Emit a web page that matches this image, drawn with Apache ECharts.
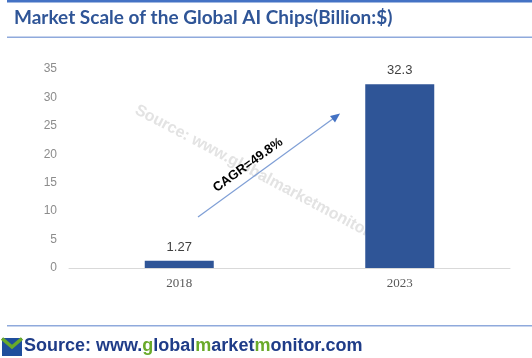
<!DOCTYPE html>
<html><head><meta charset="utf-8">
<script src="https://cdn.jsdelivr.net/npm/echarts@6/dist/echarts.min.js"></script>
<style>html,body{margin:0;padding:0;background:#fff}#c{width:532px;height:358px}</style>
</head><body><div id="c"></div>
<script>
const categories = ['2018', '2023'];
const values = [1.27, 32.3];
const yTicks = [0, 5, 10, 15, 20, 25, 30, 35];
const titleText = 'Market Scale of the Global AI Chips(Billion:$)';
const cagrText = 'CAGR=49.8%';
const watermark = 'Source: www.globalmarketmonitor.com';

const chart = echarts.init(document.getElementById('c'), null, {renderer: 'canvas'});
chart.setOption({
  animation: false,
  backgroundColor: '#fff',
  grid: {left: 69, right: 22, top: 69, bottom: 90},
  xAxis: {
    type: 'category', data: categories,
    axisLine: {lineStyle: {color: '#d9d9d9', width: 1}},
    axisTick: {show: false},
    axisLabel: {color: '#595959', fontFamily: 'Liberation Serif', fontSize: 13, margin: 9}
  },
  yAxis: {
    type: 'value', min: yTicks[0], max: yTicks[yTicks.length - 1], interval: 5,
    splitLine: {show: false},
    axisLine: {show: false}, axisTick: {show: false},
    axisLabel: {color: '#8c8c8c', fontFamily: 'Liberation Sans', fontSize: 12, margin: 12}
  },
  series: [{
    type: 'bar', data: values, barWidth: 69, z: 5,
    itemStyle: {color: '#2f5597'},
    label: {show: true, position: 'top', distance: 7, color: '#404040',
      fontFamily: 'Liberation Sans', fontSize: 13,
      formatter: p => String(p.value)}
  }],
  graphic: [
    {type: 'rect', shape: {x: 7, y: 0, width: 525, height: 2.5}, style: {fill: '#4472c4'}},
    {type: 'text', left: 14, top: 8, style: {text: titleText, fill: '#2f5597',
      font: 'bold 19px Lato'}},
    {type: 'rect', shape: {x: 7, y: 36.5, width: 525, height: 1.5}, style: {fill: '#8faadc'}},
    {type: 'text', x: 136, y: 109, z: 0, rotation: -28 * Math.PI / 180, style: {
      text: watermark, fill: '#e3e3e3', font: 'bold 16px "Liberation Sans"',
      align: 'left', verticalAlign: 'middle'}},
    {type: 'line', shape: {x1: 198, y1: 217, x2: 334, y2: 118},
      style: {stroke: '#7f9fd6', lineWidth: 1.2}},
    {type: 'polygon', shape: {points: [[340, 113.5], [330, 116], [335, 122.5]]},
      style: {fill: '#4472c4'}},
    {type: 'text', x: 248, y: 165, rotation: 36 * Math.PI / 180, style: {
      text: cagrText, fill: '#000', font: 'bold 13px "Liberation Sans"',
      align: 'center', verticalAlign: 'middle'}},
    {type: 'rect', shape: {x: 7, y: 325, width: 525, height: 1.5}, style: {fill: '#8faadc'}},
    {type: 'rect', shape: {x: 2, y: 338, width: 20, height: 18}, style: {fill: '#1f4e9c'}},
    {type: 'polyline', shape: {points: [[2, 338.5], [12, 347], [22, 338.5]]},
      style: {stroke: '#6aaa2a', lineWidth: 3.5, fill: null}},
    {type: 'text', left: 24, top: 337, style: {
      text: '{a|Source: www.}{g|g}{a|lobal}{g|m}{a|arket}{g|m}{a|onitor.com}',
      rich: {
        a: {fill: '#1f3c88', font: 'bold 18px "Liberation Sans"'},
        g: {fill: '#6aaa2a', font: 'bold 18px "Liberation Sans"'}
      }}}
  ]
});
</script></body></html>
